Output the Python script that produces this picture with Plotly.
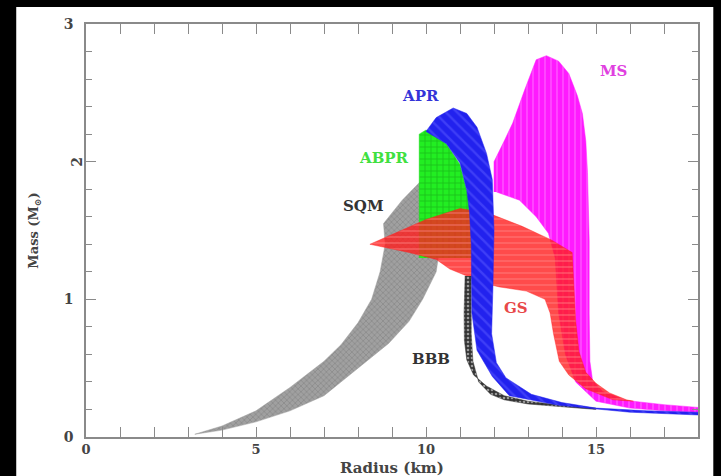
import plotly.graph_objects as go

# Mass-radius regions for several equations of state (radius in km, mass in solar masses)
sqm_r = [3.2, 4.0, 5.0, 6.0, 7.0, 7.5, 8.0, 8.4, 8.65, 8.8, 8.75, 9.3, 9.85, 10.1, 10.45, 10.3, 9.9, 9.5, 8.9, 8.0, 7.0, 6.0, 5.0, 4.0, 3.2]
sqm_m = [0.02, 0.08, 0.19, 0.36, 0.55, 0.67, 0.83, 1.0, 1.2, 1.4, 1.55, 1.72, 1.86, 1.75, 1.45, 1.2, 1.0, 0.84, 0.68, 0.50, 0.30, 0.19, 0.11, 0.05, 0.02]

ms_r = [12.0, 12.0, 12.3, 12.55, 12.9, 13.24, 13.54, 13.9, 14.2, 14.45, 14.6, 14.7, 14.75, 14.8, 14.8, 14.82, 14.9, 15.2, 15.9, 17.0, 18.0,
        18.0, 17.0, 16.0, 15.0, 14.4, 14.1, 13.9, 13.8, 13.6, 13.24, 12.75, 12.07]
ms_m = [1.78, 2.0, 2.15, 2.28, 2.52, 2.74, 2.77, 2.73, 2.64, 2.48, 2.35, 2.15, 1.92, 1.43, 0.9, 0.55, 0.41, 0.33, 0.265, 0.235, 0.215,
        0.18, 0.19, 0.21, 0.26, 0.4, 0.6, 0.9, 1.3, 1.48, 1.6, 1.72, 1.78]

abpr_r = [9.8, 9.8, 10.0, 10.6, 11.0, 11.2, 11.35, 11.4, 11.4]
abpr_m = [1.3, 2.2, 2.23, 2.13, 1.98, 1.79, 1.6, 1.4, 1.3]

gs_r = [8.35, 9.0, 10.0, 11.0, 11.5, 12.0, 12.83, 13.7, 14.3, 14.35, 14.4, 14.5, 14.7, 15.0, 15.4, 15.9, 16.1,
        15.5, 14.7, 14.2, 13.92, 13.75, 13.65, 13.5, 12.95, 12.16, 11.5, 11.2, 10.7, 10.3, 9.5, 8.35]
gs_m = [1.40, 1.47, 1.58, 1.66, 1.64, 1.61, 1.53, 1.43, 1.34, 1.1, 0.85, 0.62, 0.47, 0.39, 0.32, 0.27, 0.26,
        0.27, 0.35, 0.45, 0.55, 0.75, 0.9, 1.0, 1.06, 1.09, 1.13, 1.17, 1.22, 1.29, 1.34, 1.40]

bbb_r = [11.15, 11.12, 11.13, 11.2, 11.4, 11.78, 12.3, 13.0, 14.0, 15.0,
         15.0, 14.0, 13.0, 12.3, 11.9, 11.55, 11.38, 11.33, 11.33]
bbb_m = [1.17, 0.9, 0.7, 0.56, 0.45, 0.37, 0.30, 0.26, 0.23, 0.21,
         0.20, 0.22, 0.24, 0.27, 0.31, 0.40, 0.55, 0.75, 1.17]

apr_r = [10.0, 10.3, 10.8, 11.2, 11.5, 11.78, 11.95, 12.0, 11.97, 11.93, 12.07, 12.35, 13.1, 14.0, 15.0, 16.5, 18.0,
         18.0, 16.0, 13.9, 12.45, 11.95, 11.5, 11.35, 11.33, 11.28, 11.2, 11.0, 10.6, 10.0]
apr_m = [2.22, 2.32, 2.39, 2.35, 2.25, 2.06, 1.87, 1.5, 1.1, 0.75, 0.54, 0.43, 0.31, 0.25, 0.21, 0.19, 0.18,
         0.16, 0.18, 0.23, 0.30, 0.44, 0.63, 0.9, 1.4, 1.63, 1.79, 1.99, 2.13, 2.22]

region_labels = ["SQM", "ABPR", "APR", "MS", "GS", "BBB"]
label_r = [8.15, 8.75, 9.85, 15.5, 12.65, 10.15]
label_m = [1.68, 2.03, 2.48, 2.66, 0.94, 0.57]
label_colors = ["#333333", "#40e040", "#3434d8", "#e040e0", "#e84848", "#333333"]

x_ticks = [0, 5, 10, 15]
y_ticks = [0, 1, 3]
y_rotated_tick = 2

FONT = "DejaVu Serif"
TEXT_GREY = "#444444"
AXIS_GREY = "#8a8a8a"

fig = go.Figure()


def band(r, m, base, fg, shape, size, solidity):
    fig.add_trace(go.Scatter(
        x=r, y=m, mode="lines", fill="toself",
        line=dict(color=base, width=0.5),
        fillcolor=base,
        fillpattern=dict(shape=shape, fgcolor=fg, bgcolor=base, size=size, solidity=solidity),
        hoverinfo="skip", showlegend=False,
    ))


band(sqm_r, sqm_m, "#a0a0a0", "#6a6a6a", "x", 4, 0.3)
band(ms_r, ms_m, "#ff1aff", "#ffa8ff", "|", 6, 0.2)
band(abpr_r, abpr_m, "#22ee22", "#109010", "+", 6, 0.25)
band(gs_r, gs_m, "rgba(255,30,30,0.8)", "#ff8a8a", "-", 6, 0.25)
band(bbb_r, bbb_m, "#333333", "#ffffff", ".", 4, 0.35)
band(apr_r, apr_m, "#2222ee", "#5a5aff", "\\", 8, 0.3)

for txt, r, m, c in zip(region_labels, label_r, label_m, label_colors):
    fig.add_annotation(x=r, y=m, text=txt, showarrow=False,
                       font=dict(family=FONT, size=15, color=c, weight="bold"))

# the "2" on the mass axis is written along the axis
fig.add_annotation(xref="paper", yref="y", x=0, y=y_rotated_tick, xshift=-19, text=str(y_rotated_tick),
                   textangle=-90, showarrow=False,
                   font=dict(family=FONT, size=14, color=TEXT_GREY, weight="bold"))

# radius axis title, sitting low on the page
fig.add_annotation(xref="paper", yref="paper", x=0.5, y=0, yshift=-31, yanchor="middle",
                   text="Radius (km)", showarrow=False, borderpad=0,
                   font=dict(family=FONT, size=15, color=TEXT_GREY, weight="bold"))

# black surround on the left, right and top of the white page
for x0, x1, y0, y1 in [(-0.2, -0.114, -0.2, 1.2), (1.025, 1.1, -0.2, 1.2), (-0.2, 1.1, 1.041, 1.2)]:
    fig.add_shape(type="rect", xref="paper", yref="paper", x0=x0, x1=x1, y0=y0, y1=y1,
                  fillcolor="black", line=dict(width=0), layer="above")

axis_common = dict(
    showline=True, linecolor=AXIS_GREY, linewidth=1.6, mirror="allticks",
    ticks="inside", ticklen=10, tickwidth=1.2, tickcolor=AXIS_GREY,
    showgrid=False, zeroline=False, automargin=False,
)

fig.update_xaxes(range=[0, 18], tickvals=x_ticks, ticklabelstandoff=0,
                 tickfont=dict(family=FONT, size=13, color=TEXT_GREY, weight="bold"),
                 minor=dict(dtick=1, ticks="inside", ticklen=6, tickcolor=AXIS_GREY),
                 **axis_common)
fig.update_yaxes(range=[0, 3], tickvals=y_ticks, ticklabelstandoff=8,
                 tickfont=dict(family=FONT, size=14, color=TEXT_GREY, weight="bold"),
                 minor=dict(dtick=0.2, ticks="inside", ticklen=6, tickcolor=AXIS_GREY),
                 title=dict(text="Mass (M<sub>⊙</sub>)", standoff=22,
                            font=dict(family=FONT, size=13, color=TEXT_GREY, weight="bold")),
                 **axis_common)

# long tick at 2 on both vertical sides
fig.update_layout(yaxis2=dict(
    overlaying="y", range=[0, 3], tickvals=[y_rotated_tick], showticklabels=False,
    ticks="inside", ticklen=10, tickwidth=1.2, tickcolor=AXIS_GREY, mirror="allticks",
    showline=False, showgrid=False, zeroline=False, automargin=False,
))
fig.add_trace(go.Scatter(x=[None], y=[None], yaxis="y2", showlegend=False, hoverinfo="skip"))

fig.update_layout(
    width=721, height=476,
    margin=dict(l=86, r=23, t=24, b=39),
    paper_bgcolor="white", plot_bgcolor="white",
)

fig.write_html("out.html")
